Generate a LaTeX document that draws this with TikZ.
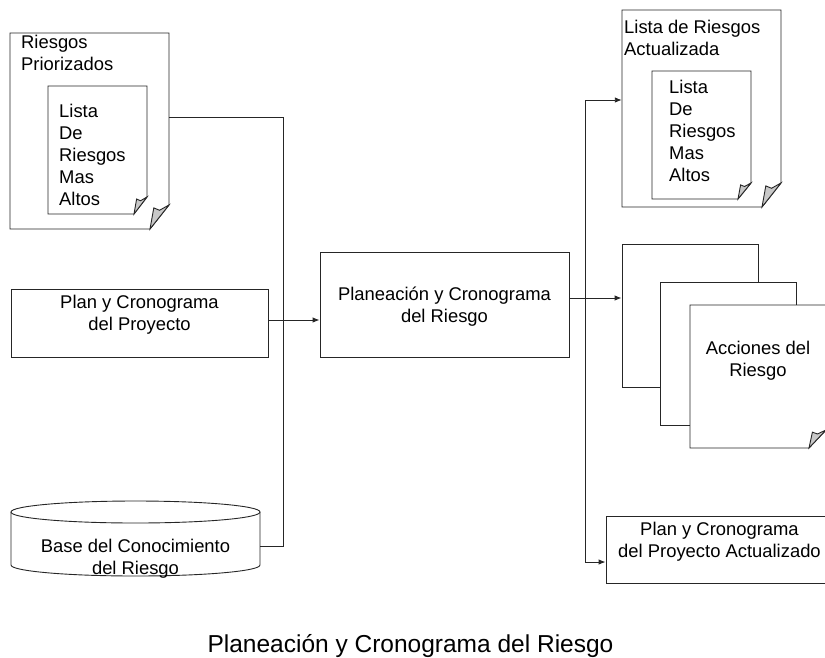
\documentclass[tikz,border=0pt]{standalone}
\usepackage{fontspec}
\setmainfont{Liberation Sans}
\usetikzlibrary{arrows.meta}
\definecolor{flapgray}{HTML}{C8C8C8}
\newcommand\mylines[2]{\begin{tabular}[t]{@{}#1@{}}#2\end{tabular}}
% #1 name, #2 L, #3 T, #4 R, #5 B, #6 fold w, #7 fold h
\newcommand\docshape[7]{%
  \draw[ln,fill=white] (#2,#3) -- (#4,#3) -- (#4,{#5-#7}) -- ({#4-#6},#5) -- (#2,#5) -- cycle;
  \draw[ln,fill=flapgray] ({#4-#6},#5) -- ({#4-0.8*#6},{#5-0.88*#7}) -- ({#4-0.5*#6},{#5-0.78*#7}) -- (#4,{#5-#7}) -- cycle;
  \node[inner sep=0,minimum width={#4-#2},minimum height={#5-#3}] (#1) at ({(#2+#4)/2},{(#3+#5)/2}) {};
}
\begin{document}
\begin{tikzpicture}[x=1pt,y=-1pt,
  ln/.style={draw=black!85,line width=0.9pt},
  box/.style={ln,fill=white,inner sep=0,rectangle},
  txt/.style={inner sep=0,font=\fontsize{18.4}{22}\selectfont},
  arr/.style={-{Latex[length=7pt,width=5.5pt]}}]
\useasboundingbox (0,0) rectangle (825,657);
% Riesgos Priorizados
\docshape{d1}{10}{33}{169}{229}{19}{24}
\docshape{d1in}{48}{86}{147}{214}{13}{17}
\node[txt,anchor=base west] (t1) at (21,48) {\mylines{l}{Riesgos\\Priorizados}};
\node[txt,anchor=base west] (t1in) at (59,117) {\mylines{l}{Lista\\De\\Riesgos\\Mas\\Altos}};
% Plan y Cronograma del Proyecto
\node[box,minimum width=257,minimum height=68] (plan) at (139.5,323) {};
\node[txt,anchor=base] (tplan) at (139.5,308) {\mylines{c}{Plan y Cronograma\\del Proyecto}};
% Base del Conocimiento (cylinder)
\draw[ln,fill=white] (11,512) -- (11,565) arc[start angle=180,end angle=0,x radius=124.5,y radius=11] -- (260,512);
\draw[ln,fill=white] (135.5,512) ellipse[x radius=124.5,y radius=11];
\node[inner sep=0,minimum width=249,minimum height=75] (cyl) at (135.5,538.5) {};
\node[txt,anchor=base] (tcyl) at (135.5,552) {\mylines{c}{Base del Conocimiento\\del Riesgo}};
% Central process
\node[box,minimum width=249,minimum height=105] (crisk) at (444.5,304.5) {};
\node[txt,anchor=base] (tcrisk) at (444.5,300) {\mylines{c}{Planeaci\'on y Cronograma\\del Riesgo}};
% Lista de Riesgos Actualizada
\docshape{d2}{622}{10}{781}{207}{19}{24}
\docshape{d2in}{652}{71}{751}{199}{13}{16}
\node[txt,anchor=base west] (t2) at (624,33) {\mylines{l}{Lista de Riesgos\\Actualizada}};
\node[txt,anchor=base west] (t2in) at (669,93) {\mylines{l}{Lista\\De\\Riesgos\\Mas\\Altos}};
% Acciones del Riesgo (stack)
\node[box,minimum width=136,minimum height=143] (acc1) at (690,315.5) {};
\node[box,minimum width=136,minimum height=143] (acc2) at (728,353.5) {};
\docshape{acc3}{690}{305}{826}{448}{17}{18}
\node[txt,anchor=base] (tacc) at (758,354) {\mylines{c}{Acciones del\\Riesgo}};
% Plan y Cronograma del Proyecto Actualizado
\node[box,minimum width=224,minimum height=67] (upd) at (718,549.5) {};
\node[txt,anchor=base] (tupd) at (719.5,535) {\mylines{c}{Plan y Cronograma\\del Proyecto Actualizado}};
% Connectors, left side
\coordinate (jtop) at (283,117);
\coordinate (jmid) at (283,320);
\coordinate (jbot) at (283,546);
\draw[ln] (d1.east |- jtop) -- (jtop) -- (jbot) -- (cyl.east |- jbot);
\draw[ln] (plan.east |- jmid) -- (jmid);
\draw[ln,arr] (jmid) -- (crisk.west |- jmid);
% Connectors, right side
\coordinate (ktop) at (585,100);
\coordinate (kmid) at (585,298);
\coordinate (kbot) at (585,562);
\draw[ln,arr] (crisk.east |- kmid) -- (acc1.west |- kmid);
\draw[ln,arr] (kmid) -- (ktop) -- (d2.west |- ktop);
\draw[ln,arr] (kmid) -- (kbot) -- (upd.west |- kbot);
% Caption
\node[inner sep=0,anchor=base,font=\fontsize{24.5}{29}\selectfont] (cap) at (410.5,652) {Planeaci\'on y Cronograma del Riesgo};
\end{tikzpicture}
\end{document}
